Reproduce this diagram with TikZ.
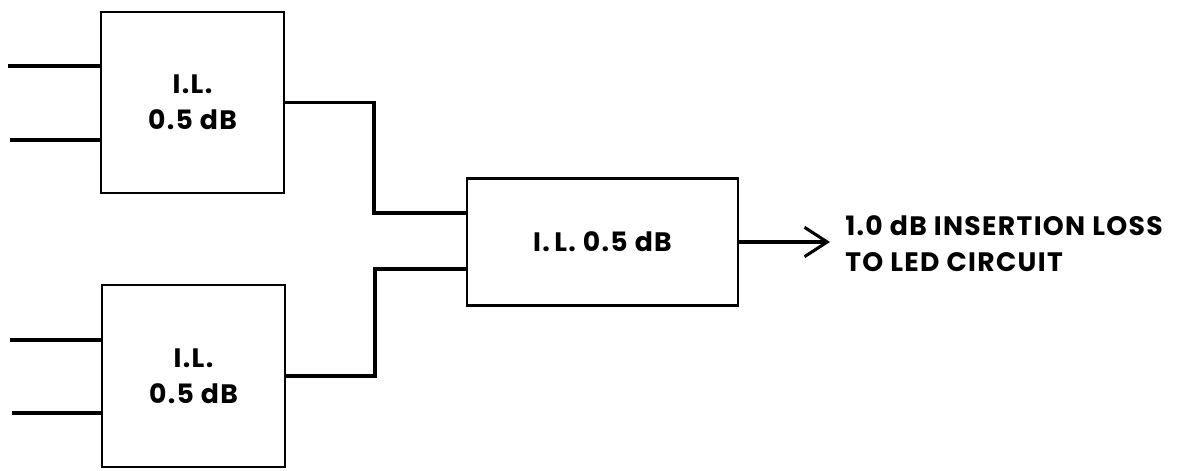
\documentclass[tikz,border=0pt]{standalone}
\usepackage{fontspec}
\setmainfont{Poppins}[LetterSpace=5]
\usetikzlibrary{arrows.meta}
\begin{document}
\begin{tikzpicture}[x=0.75pt,y=-0.75pt,
  blk/.style={draw, line width=1.9pt, inner sep=0pt, align=center, font=\fontsize{20}{27}\selectfont\bfseries},
  wire/.style={line width=2.3pt},
  lbl/.style={font=\fontsize{20}{27}\selectfont\bfseries, align=left, inner sep=0pt}]
\useasboundingbox (0,0) rectangle (1186,471);
\node[blk, minimum width=137.25pt, minimum height=135.75pt] (b1) at (192.5,102.5) {I.L.\\0.5 dB};
\node[blk, minimum width=137.25pt, minimum height=136.5pt] (b2) at (193.5,376) {I.L.\\0.5 dB};
\node[blk, minimum width=203.25pt, minimum height=95.25pt] (b3) at (602.5,242) {I.\,L. 0.5 dB};
\coordinate (i1) at (8,66);
\coordinate (i2) at (10,140);
\coordinate (i3) at (10,340);
\coordinate (i4) at (12,413);
\coordinate (j1) at (374,213);
\coordinate (j2) at (375,269);
\coordinate (out) at (830,242);
\draw[wire] (i1) -- (i1 -| b1.west);
\draw[wire] (i2) -- (i2 -| b1.west);
\draw[wire] (i3) -- (i3 -| b2.west);
\draw[wire] (i4) -- (i4 -| b2.west);
\draw[wire] (b1.east) -| (j1) -- (j1 -| b3.west);
\draw[wire] (b2.east) -| (j2) -- (j2 -| b3.west);
\draw[wire, -{Straight Barb[length=17pt, width=22pt, line width=2.3pt]}] (b3.east) -- (out);
\node[lbl, anchor=north west] (t) at (845,215) {1.0 dB INSERTION LOSS\\TO LED CIRCUIT};
\end{tikzpicture}
\end{document}
